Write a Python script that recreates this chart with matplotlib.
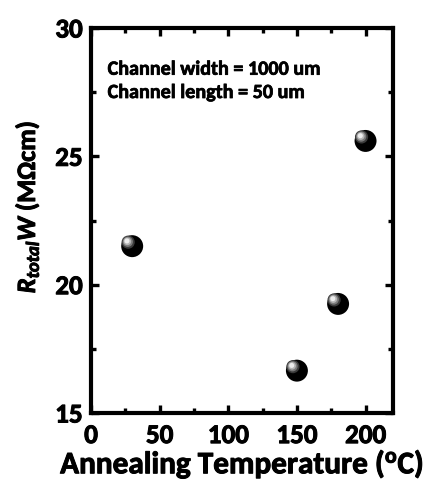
import matplotlib
matplotlib.use("Agg")
import matplotlib.pyplot as plt
import matplotlib.transforms as mtransforms
import matplotlib.patheffects as pe
from matplotlib.ticker import MultipleLocator

temps = [30, 150, 180, 200]
rw = [21.5, 16.65, 19.25, 25.6]
xticks = [0, 50, 100, 150, 200]
yticks = [15, 20, 25, 30]

plt.rcParams['font.family'] = ['Carlito', 'DejaVu Sans']
plt.rcParams['font.weight'] = 'bold'
plt.rcParams['mathtext.fontset'] = 'custom'
plt.rcParams['mathtext.rm'] = 'Carlito:bold'
plt.rcParams['mathtext.it'] = 'Carlito:bold:italic'
plt.rcParams['mathtext.bf'] = 'Carlito:bold'

thick = [pe.withStroke(linewidth=0.7, foreground='black')]

fig = plt.figure(figsize=(4.32, 4.85), dpi=100)
ax = fig.add_axes([91/432, 1-414/485, (393-91)/432, (414-29)/485])

# sphere-like markers: black ball with a light highlight
ax.scatter(temps, rw, s=250, color='black', zorder=3, edgecolors='none')
shades = [('#3a3a3a', 90), ('#7a7a7a', 55), ('#b5b5b5', 30), ('#ececec', 13)]
for i, (c, s) in enumerate(shades):
    d = 0.04 + 0.004 * i
    off = mtransforms.ScaledTranslation(-d, d, fig.dpi_scale_trans)
    ax.scatter(temps, rw, s=s, color=c, zorder=4 + i, edgecolors='none',
               transform=ax.transData + off)

ax.set_xlim(0, 220)
ax.set_ylim(15, 30)
ax.set_xticks(xticks)
ax.set_yticks(yticks)
ax.xaxis.set_minor_locator(MultipleLocator(25))
ax.yaxis.set_minor_locator(MultipleLocator(2.5))
ax.tick_params(which='both', direction='in', top=True, right=True, width=2.4)
ax.tick_params(which='major', length=6, labelsize=19.5)
ax.tick_params(which='minor', length=3.5)
ax.tick_params(axis='x', which='major', pad=8)
ax.tick_params(axis='y', which='major', pad=6)
for sp in ax.spines.values():
    sp.set_linewidth(3)
for lab in ax.get_xticklabels() + ax.get_yticklabels():
    lab.set_fontweight('bold')
    lab.set_path_effects(thick)

xl = ax.set_xlabel(r'Annealing Temperature ($^{\mathrm{o}}$C)', fontsize=22.5, fontweight='bold', labelpad=1)
yl = ax.set_ylabel(r'$R_{total}W$ (MΩcm)', fontsize=19, fontweight='bold')
ax.yaxis.set_label_coords(-0.165, 0.535)
xl.set_path_effects(thick)
yl.set_path_effects(thick)

t = ax.text(0.055, 0.915, 'Channel width = 1000 um\nChannel length = 50 um',
            transform=ax.transAxes, fontsize=14.5, fontweight='bold', va='top', ha='left',
            linespacing=1.45)
t.set_path_effects([pe.withStroke(linewidth=0.5, foreground='black')])

fig.savefig('out.png', dpi=100)
